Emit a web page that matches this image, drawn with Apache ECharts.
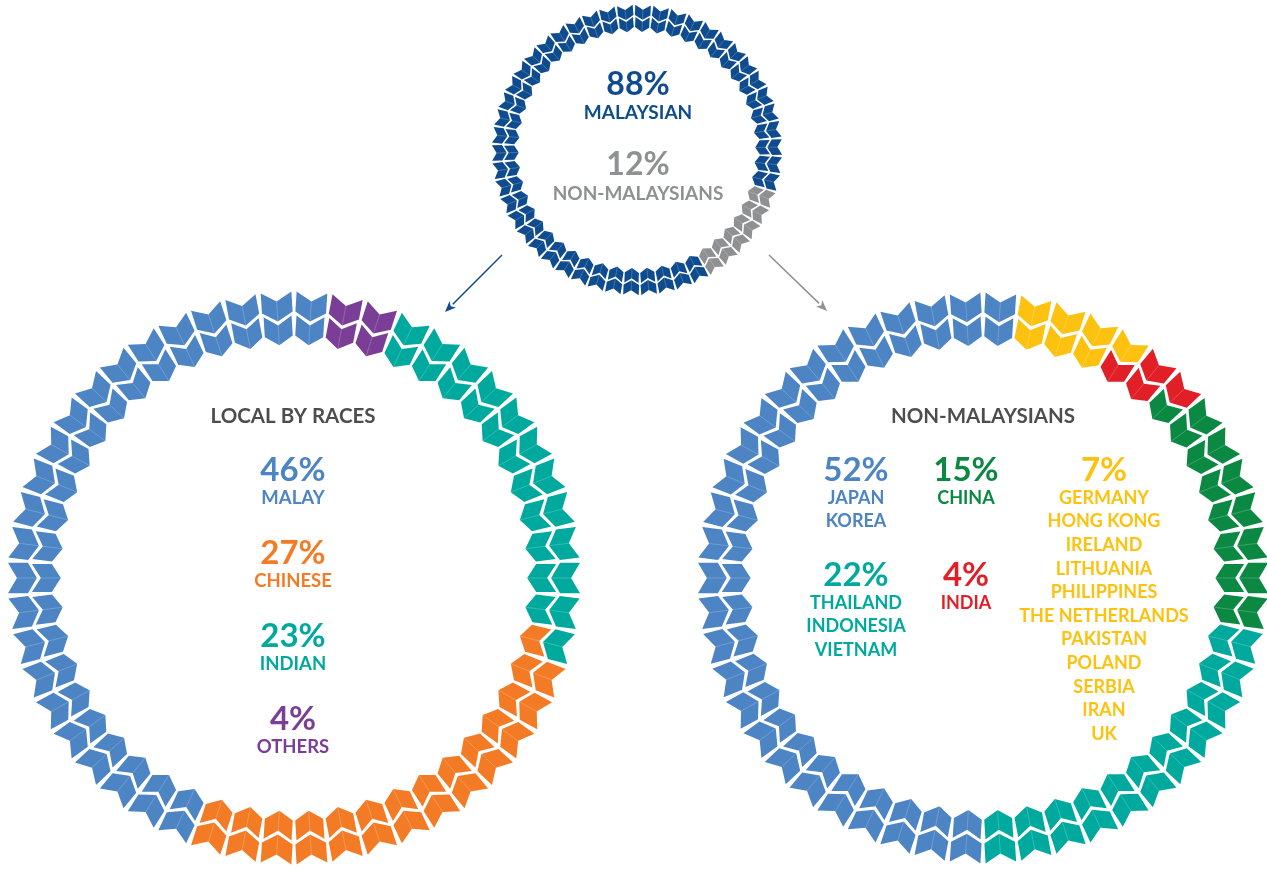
<!DOCTYPE html>
<html>
<head>
<meta charset="utf-8">
<title>Workforce by nationality</title>
<script src="https://cdn.jsdelivr.net/npm/echarts@6/dist/echarts.min.js"></script>
<style>
  html, body { margin: 0; padding: 0; background: #fff; }
  #main { width: 1267px; height: 869px; }
</style>
</head>
<body>
<div id="main"></div>
<script>
// ---- data (ring order is clockwise) ----
var topNames = ['MALAYSIAN', 'NON-MALAYSIANS'];
var topValues = [88, 12];
var topColors = ['#0f4c8f', '#8f9091'];

var localNames = ['OTHERS', 'INDIAN', 'CHINESE', 'MALAY'];
var localValues = [4, 23, 27, 46];
var localColors = ['#7a3e97', '#00a99e', '#f47b25', '#4c84c4'];

var foreignNames = [
    ['GERMANY', 'HONG KONG', 'IRELAND', 'LITHUANIA', 'PHILIPPINES', 'THE NETHERLANDS', 'PAKISTAN', 'POLAND', 'SERBIA', 'IRAN', 'UK'],
    ['INDIA'],
    ['CHINA'],
    ['THAILAND', 'INDONESIA', 'VIETNAM'],
    ['JAPAN', 'KOREA']
];
var foreignValues = [7, 4, 15, 22, 52];
var foreignColors = ['#fdc20f', '#e11f26', '#0b8943', '#00a99e', '#4c84c4'];

var CHEVRONS = 50;      // chevrons per row, every ring
var BASE_R = 287;       // chevron sizes below are for a ring of this radius
var OUTER_ROW = 1 - 14.5 / BASE_R;
var INNER_ROW = 1 - 38.5 / BASE_R;
var FONT = 'Lato, "Noto Sans", sans-serif';

// which category a position (0-100 along the ring) falls in
function catAt(values, pos) {
    var acc = 0;
    for (var i = 0; i < values.length; i++) {
        acc += values[i];
        if (pos < acc) return i;
    }
    return values.length - 1;
}

function ringData(values) {
    var out = [];
    for (var i = 0; i < CHEVRONS; i++) {
        var mid = (i + 0.5) * 100 / CHEVRONS;
        out.push([OUTER_ROW, mid, catAt(values, mid - 0.01)]);
        out.push([INNER_ROW, mid, catAt(values, mid + 0.01)]);
    }
    return out;
}

function chevronRenderer(colors) {
    return function (params, api) {
        var cs = params.coordSys;
        var p = api.coord([api.value(0), api.value(1)]);
        var dx = p[0] - cs.cx, dy = p[1] - cs.cy;
        var rr = Math.sqrt(dx * dx + dy * dy);
        var ox = dx / rr, oy = dy / rr;   // outward
        var tx = -oy, ty = ox;            // along the ring
        var k = cs.r / BASE_R;
        var t = 20 * k, d = 9 * k, h = (t + d) / 2;
        var hw = Math.PI * rr / CHEVRONS * 0.9;
        function pt(u, v) {
            var vv = v - h;
            return [p[0] + u * tx - vv * ox, p[1] + u * ty - vv * oy];
        }
        var a = pt(0, d), b = pt(0, d + t);
        return {
            type: 'group',
            children: [{
                type: 'polygon',
                shape: { points: [pt(-hw, 0), a, pt(hw, 0), pt(hw, t), b, pt(-hw, t)] },
                style: { fill: colors[api.value(2)] }
            }, {
                type: 'line',
                shape: { x1: a[0], y1: a[1], x2: b[0], y2: b[1] },
                style: { stroke: 'rgba(255,255,255,0.3)', lineWidth: 0.7 }
            }]
        };
    };
}

function txt(x, y, text, color, size, weight) {
    return {
        type: 'text', x: x, y: y, silent: true,
        style: {
            text: text, fill: color, align: 'center', verticalAlign: 'middle',
            font: (weight || 'bold') + ' ' + size + 'px ' + FONT
        }
    };
}

var graphics = [];

// top ring text
graphics.push(txt(638, 85, topValues[0] + '%', topColors[0], 32));
graphics.push(txt(638, 113, topNames[0], topColors[0], 19));
graphics.push(txt(638, 165, topValues[1] + '%', topColors[1], 32));
graphics.push(txt(638, 194, topNames[1], topColors[1], 19));

// left ring text, listed largest first
graphics.push(txt(293, 416, 'LOCAL BY RACES', '#4d4d4d', 20.5));
for (var j = 0; j < localValues.length; j++) {
    var li = localValues.length - 1 - j;
    var ly = 470 + j * 83;
    graphics.push(txt(293, ly, localValues[li] + '%', localColors[li], 33));
    graphics.push(txt(293, ly + 28, localNames[li], localColors[li], 18.5));
}

// right ring text
graphics.push(txt(983, 416, 'NON-MALAYSIANS', '#4d4d4d', 20.5));
var foreignSpots = [[1104, 470], [966, 575], [966, 470], [856, 575], [856, 470]];
for (var f = 0; f < foreignValues.length; f++) {
    var sx = foreignSpots[f][0], sy = foreignSpots[f][1];
    graphics.push(txt(sx, sy, foreignValues[f] + '%', foreignColors[f], 33));
    for (var n = 0; n < foreignNames[f].length; n++) {
        graphics.push(txt(sx, sy + 28 + n * 23.6, foreignNames[f][n], foreignColors[f], 18));
    }
}

// arrows from the top ring
function arrow(x1, y1, x2, y2, color) {
    var ang = Math.atan2(y2 - y1, x2 - x1), L = 11, W = 4.5;
    var bx = x2 - L * Math.cos(ang), by = y2 - L * Math.sin(ang);
    var px = -Math.sin(ang) * W, py = Math.cos(ang) * W;
    graphics.push({ type: 'line', silent: true, shape: { x1: x1, y1: y1, x2: bx, y2: by },
        style: { stroke: color, lineWidth: 1.5 } });
    graphics.push({ type: 'polygon', silent: true,
        shape: { points: [[x2, y2], [bx + px, by + py], [bx + 3 * Math.cos(ang), by + 3 * Math.sin(ang)], [bx - px, by - py]] },
        style: { fill: color } });
}
arrow(502, 255, 445, 312, topColors[0]);
arrow(769, 255, 827, 311, topColors[1]);

var rings = [
    { center: [637, 150], radius: 145, start: -60, values: topValues, colors: topColors },
    { center: [294, 578], radius: 286, start: 82.8, values: localValues, colors: localColors },
    { center: [983, 578], radius: 285, start: 82.8, values: foreignValues, colors: foreignColors }
];

var myChart = echarts.init(document.getElementById('main'));
var option = {
    backgroundColor: '#fff',
    animation: false,
    polar: [],
    angleAxis: [],
    radiusAxis: [],
    series: [],
    graphic: graphics
};
rings.forEach(function (ring, i) {
    option.polar.push({ center: ring.center, radius: ring.radius });
    option.angleAxis.push({
        polarIndex: i, type: 'value', min: 0, max: 100, startAngle: ring.start, clockwise: true,
        show: false, axisLine: { show: false }, axisLabel: { show: false }, splitLine: { show: false }, axisTick: { show: false }
    });
    option.radiusAxis.push({
        polarIndex: i, type: 'value', min: 0, max: 1,
        show: false, axisLine: { show: false }, axisLabel: { show: false }, splitLine: { show: false }, axisTick: { show: false }
    });
    option.series.push({
        type: 'custom',
        coordinateSystem: 'polar',
        polarIndex: i,
        silent: true,
        encode: { radius: 0, angle: 1 },
        renderItem: chevronRenderer(ring.colors),
        data: ringData(ring.values)
    });
});

myChart.setOption(option);
window.addEventListener('resize', function () {
    myChart.resize();
});
</script>
</body>
</html>
